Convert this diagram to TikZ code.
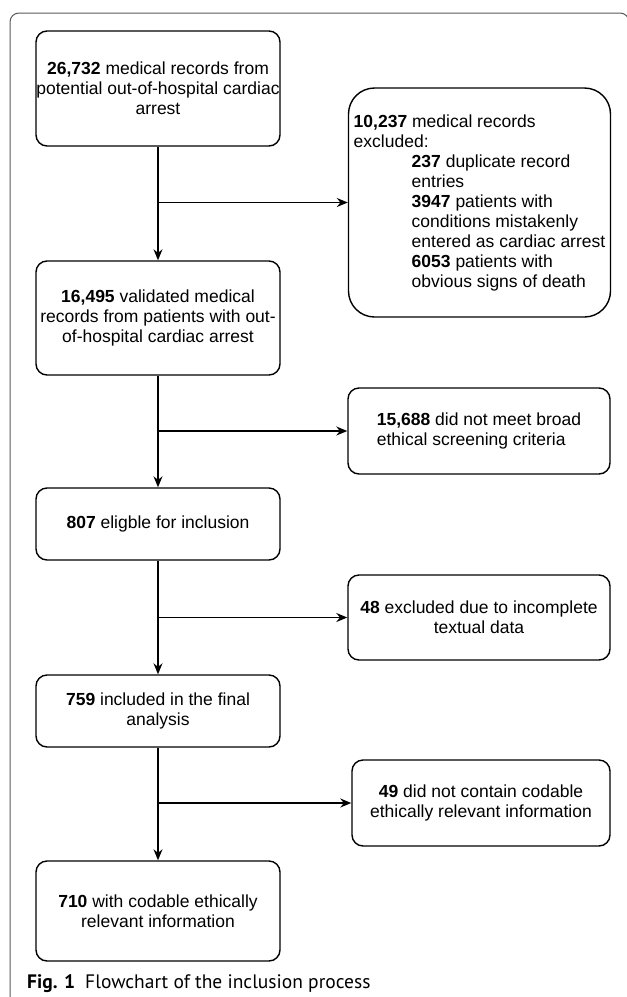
\documentclass[tikz,border=0pt]{standalone}
\usepackage{fontspec}
\setmainfont{Liberation Sans}
\newfontfamily\capfont{PT Sans}
\usetikzlibrary{arrows.meta,positioning}

\begin{document}
\begin{tikzpicture}
		[x=1pt,y=-1pt,
		main node/.style={shape=rectangle,draw,rounded corners=11pt,line width=1.4pt,
			minimum width=244pt,inner sep=0pt,align=center,
			font=\fontsize{17.5}{20}\selectfont},
		excl node/.style={main node,minimum width=262pt},
		flow/.style={line width=1.4pt,-{Stealth[length=11pt,width=9pt]}},
		frame/.style={draw=black!65,line width=1pt,rounded corners=9pt}
		]
		
		\useasboundingbox (0,0) rectangle (627,997);
		\draw[frame] (10,1005) -- (10,13) -- (629,13) -- (629,40);
		
		% main column
		\node [main node,minimum height=115pt] (records) at (158,88.5)
		{\textbf{26,732} medical records from\\potential out-of-hospital cardiac\\arrest};
		\node [main node,minimum height=114pt] (validated) at (158,318)
		{\textbf{16,495} validated medical\\records from patients with out-\\of-hospital cardiac arrest};
		\node [main node,minimum height=72pt] (eligible) at (158,524)
		{\textbf{807} eligble for inclusion};
		\node [main node,minimum height=72pt] (included) at (158,711)
		{\textbf{759} included in the final\\analysis};
		\node [main node,minimum height=100pt] (codable) at (158,911)
		{\textbf{710} with codable ethically\\relevant information};
		
		% exclusions
		\node [excl node,minimum height=229pt,align=left,rounded corners=26pt] (excl1) at (479.5,202.5)
		{\textbf{10,237} medical records\\excluded:\\
			\hspace*{58pt}\textbf{237} duplicate record\\
			\hspace*{58pt}entries\\
			\hspace*{58pt}\textbf{3947} patients with\\
			\hspace*{58pt}conditions mistakenly\\
			\hspace*{58pt}entered as cardiac arrest\\
			\hspace*{58pt}\textbf{6053} patients with\\
			\hspace*{58pt}obvious signs of death};
		\node [excl node,minimum height=86pt,align=left] (excl2) at (479,431)
		{\textbf{15,688} did not meet broad\\ethical screening criteria};
		\node [excl node,minimum height=85pt] (excl3) at (479,617.5)
		{\textbf{48} excluded due to incomplete\\textual data};
		\node [excl node,minimum height=86pt,minimum width=258pt] (excl4) at (481,803)
		{\textbf{49} did not contain codable\\ethically relevant information};
		
		\coordinate (b1) at (records.south |- excl1.west);
		\coordinate (b2) at (records.south |- excl2.west);
		\coordinate (b3) at (records.south |- excl3.west);
		\coordinate (b4) at (records.south |- excl4.west);
		
		\path[]
		(records) edge[flow] (validated)
		(validated) edge[flow] (eligible)
		(eligible) edge[flow] (included)
		(included) edge[flow] (codable)
		(b1) edge[flow] (excl1)
		(b2) edge[flow] (excl2)
		(b3) edge[flow] (excl3)
		(b4) edge[flow] (excl4)
		;
		
		\node [anchor=base west,inner sep=0pt,font=\capfont\fontsize{19.5}{22}\selectfont] (caption) at (27,988)
		{\textbf{Fig. 1}\hspace{10pt}Flowchart of the inclusion process};
		
\end{tikzpicture}
\end{document}
